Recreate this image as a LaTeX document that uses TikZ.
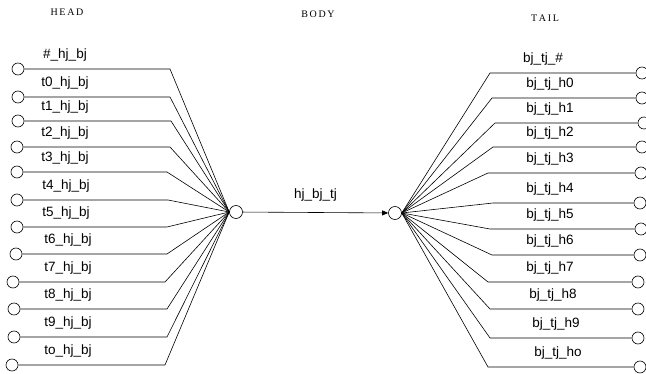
\documentclass[tikz,border=0pt]{standalone}
\usepackage{fontspec}
\setmainfont{Liberation Sans}
\newfontfamily\titlefont{Liberation Serif}
\usetikzlibrary{arrows.meta}
\begin{document}
\begin{tikzpicture}[x=1pt,y=-1pt,
  port/.style={circle,draw,inner sep=0pt,minimum size=12pt,line width=0.6pt},
  hubc/.style={circle,draw,inner sep=0pt,minimum size=13pt,line width=0.6pt},
  wire/.style={line width=0.6pt},
  lbl/.style={font=\fontsize{13.5}{15}\selectfont,inner sep=0pt},
  ttl/.style={font=\titlefont\fontsize{10}{11}\selectfont,inner sep=0pt}]
\useasboundingbox (0,0) rectangle (646,374);
\node[ttl] (head) at (67,12) {H\,E\,A\,D};
\node[ttl] (body) at (318,14) {B\,O\,D\,Y};
\node[ttl] (tail) at (545,18) {T\,A\,I\,L};
\node[hubc] (lhub) at (236,212) {};
\node[hubc] (rhub) at (395,213) {};
\draw[wire,-{Triangle[length=6pt,width=5pt]}] (lhub) -- (rhub)
  node[lbl,midway,above=11pt] (elbl) {hj\_bj\_tj};
% left side
\foreach \i/\cx/\y/\ex/\lx/\t in {
  0/18/69/170/65/\#\_hj\_bj,
  1/18/97/170/65/t0\_hj\_bj,
  2/18/121/171/65/t1\_hj\_bj,
  3/17/147/170/65/t2\_hj\_bj,
  4/17/172/167/65/t3\_hj\_bj,
  5/17/200/168/66/t4\_hj\_bj,
  6/17/227/167/66/t5\_hj\_bj,
  7/16/254/167/68/t6\_hj\_bj,
  8/13/282/165/68/t7\_hj\_bj,
  9/14/309/167/68/t8\_hj\_bj,
  10/14/337/167/68/t9\_hj\_bj,
  11/12/365/165/68/to\_hj\_bj}{
  \node[port] (lc\i) at (\cx,\y) {};
  \coordinate (le\i) at (\ex,\y);
  \node[lbl] (ll\i) at (\lx,\y-14) {\t};
  \draw[wire] (lc\i) -- (le\i) -- (lhub.west);
}
% right side
\foreach \i/\cx/\y/\sx/\lx/\t in {
  0/642/73/490/543/bj\_tj\_\#,
  1/642/98/492/550/bj\_tj\_h0,
  2/644/123/495/550/bj\_tj\_h1,
  3/642/147/493/550/bj\_tj\_h2,
  4/641/173/488/550/bj\_tj\_h3,
  5/640/203/493/550/bj\_tj\_h4,
  6/641/229/490/550/bj\_tj\_h5,
  7/640/255/492/550/bj\_tj\_h6,
  8/638/282/488/550/bj\_tj\_h7,
  9/638/309/490/553/bj\_tj\_h8,
  10/638/338/490/556/bj\_tj\_h9,
  11/640/367/488/558/bj\_tj\_ho}{
  \node[port] (rc\i) at (\cx,\y) {};
  \coordinate (rs\i) at (\sx,\y);
  \node[lbl] (rl\i) at (\lx,\y-14) {\t};
  \draw[wire] (rhub.east) -- (rs\i) -- (rc\i);
}
\end{tikzpicture}
\end{document}
